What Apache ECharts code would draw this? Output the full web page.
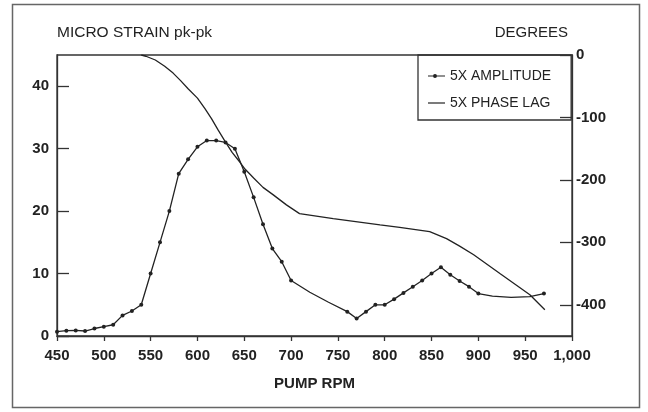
<!DOCTYPE html>
<html><head><meta charset="utf-8">
<script src="https://cdn.jsdelivr.net/npm/echarts@6/dist/echarts.min.js"></script>
<style>html,body{margin:0;padding:0;background:#fff}#c{width:648px;height:412px}</style>
</head><body><div id="c"></div>
<script>
// Pump RPM vs 5X amplitude (micro strain pk-pk); ampNoMarker points are line-only
const ampRpm = [450,460,470,480,490,500,510,520,530,540,550,560,570,580,590,600,610,620,630,640,650,660,670,680,690,700,720,740,760,770,780,790,800,810,820,830,840,850,860,870,880,890,900,915,935,955,970];
const ampVal = [0.7,0.85,0.9,0.8,1.2,1.5,1.8,3.3,4.0,5.0,10.0,15.0,20.0,26.0,28.3,30.3,31.3,31.3,31.0,30.0,26.3,22.2,17.9,14.0,11.9,8.9,7.0,5.4,3.9,2.8,3.9,5.0,5.0,5.9,6.9,7.9,8.9,10.0,11.0,9.8,8.8,7.9,6.8,6.4,6.2,6.3,6.8];
const ampNoMarker = [720,740,915,935,955];
// Pump RPM vs 5X phase lag (degrees)
const phaseRpm = [540,545,555,565,574,582,590,600,608,615,622,629,637,645,651,660,670,681,695,709,745,795,816,848,866,880,895,923,955,971];
const phaseVal = [0,-2,-8,-18,-29,-41,-54,-69,-86,-102,-120,-137,-156,-171,-183,-197,-212,-224,-240,-254,-262,-272,-276,-283,-294,-306,-320,-350,-384,-408];
const xTicks = [450,500,550,600,650,700,750,800,850,900,950,1000];
const leftTicks = [0,10,20,30,40];
const rightTicks = [0,-100,-200,-300,-400];

const FONT = '"Liberation Sans", Arial, sans-serif';
const INK = '#222';
const chart = echarts.init(document.getElementById('c'), null, {renderer:'canvas'});
const ampData = ampRpm.map((r,i)=> ampNoMarker.includes(r) ? {value:[r,ampVal[i]], symbol:'none'} : [r,ampVal[i]]);
const phaseData = phaseRpm.map((r,i)=>[r,phaseVal[i]]);
const lblStyle = {color:INK, fontFamily:FONT, fontWeight:'bold', fontSize:15};
const ampIcon = 'path://M0,6.4 H17 V7.6 H0 Z M7,5 A2,2 0 1,1 7,9 A2,2 0 1,1 7,5 Z';
const phaseIcon = 'path://M0,6.4 H17 V7.6 H0 Z';
chart.setOption({
  animation:false,
  backgroundColor:'#fff',
  grid:{left:57, right:76, top:55, bottom:76, show:true, borderColor:'#333', borderWidth:1.3, backgroundColor:'transparent'},
  legend:{
    orient:'vertical', left:418, top:55,
    borderColor:'#333', borderWidth:1.3, padding:[14,20,10,10],
    itemWidth:17, itemHeight:14, itemGap:13,
    textStyle:{color:INK, fontFamily:FONT, fontSize:14},
    data:[{name:'5X AMPLITUDE', icon:ampIcon},{name:'5X PHASE LAG', icon:phaseIcon}]
  },
  graphic:[{type:'rect', shape:{x:12.5,y:4.5,width:627,height:403}, style:{fill:'none', stroke:'#666', lineWidth:1.5}, silent:true}],
  xAxis:{
    type:'value', min:450, max:1000, interval:50,
    name:'PUMP RPM', nameLocation:'middle', nameGap:40,
    nameTextStyle:{color:INK, fontFamily:FONT, fontWeight:'bold', fontSize:15},
    axisLine:{show:true, lineStyle:{color:'#333', width:1.3}},
    axisTick:{show:true, inside:false, length:5, lineStyle:{color:'#333', width:1.3}},
    axisLabel:Object.assign({margin:12, formatter:v=> v>=1000 ? Math.floor(v/1000)+','+String(v%1000).padStart(3,'0') : String(v)}, lblStyle),
    splitLine:{show:false}
  },
  yAxis:[{
    type:'value', min:0, max:45, position:'left',
    name:'MICRO STRAIN pk-pk', nameLocation:'end', nameGap:22,
    nameTextStyle:{color:INK, fontFamily:FONT, fontSize:15.5, align:'left', verticalAlign:'middle'},
    axisLine:{show:true, lineStyle:{color:'#333', width:1.3}},
    axisTick:{show:true, inside:true, length:12, customValues:leftTicks, lineStyle:{color:'#333', width:1.3}},
    axisLabel:Object.assign({margin:8, customValues:leftTicks}, lblStyle),
    splitLine:{show:false}
  },{
    type:'value', min:-450, max:0, position:'right',
    name:'DEGREES', nameLocation:'end', nameGap:22,
    nameTextStyle:{color:INK, fontFamily:FONT, fontSize:15, align:'right', verticalAlign:'middle', padding:[0,4,0,0]},
    axisLine:{show:true, lineStyle:{color:'#333', width:1.3}},
    axisTick:{show:true, inside:true, length:12, customValues:rightTicks, lineStyle:{color:'#333', width:1.3}},
    axisLabel:Object.assign({margin:4, customValues:rightTicks}, lblStyle),
    splitLine:{show:false}
  }],
  series:[{
    name:'5X AMPLITUDE', type:'line', yAxisIndex:0, data:ampData,
    symbol:'circle', symbolSize:4, showSymbol:true,
    lineStyle:{color:INK, width:1.3}, itemStyle:{color:INK}
  },{
    name:'5X PHASE LAG', type:'line', yAxisIndex:1, data:phaseData,
    symbol:'none', smooth:false,
    lineStyle:{color:INK, width:1.3}, itemStyle:{color:INK}
  }]
});
</script></body></html>
